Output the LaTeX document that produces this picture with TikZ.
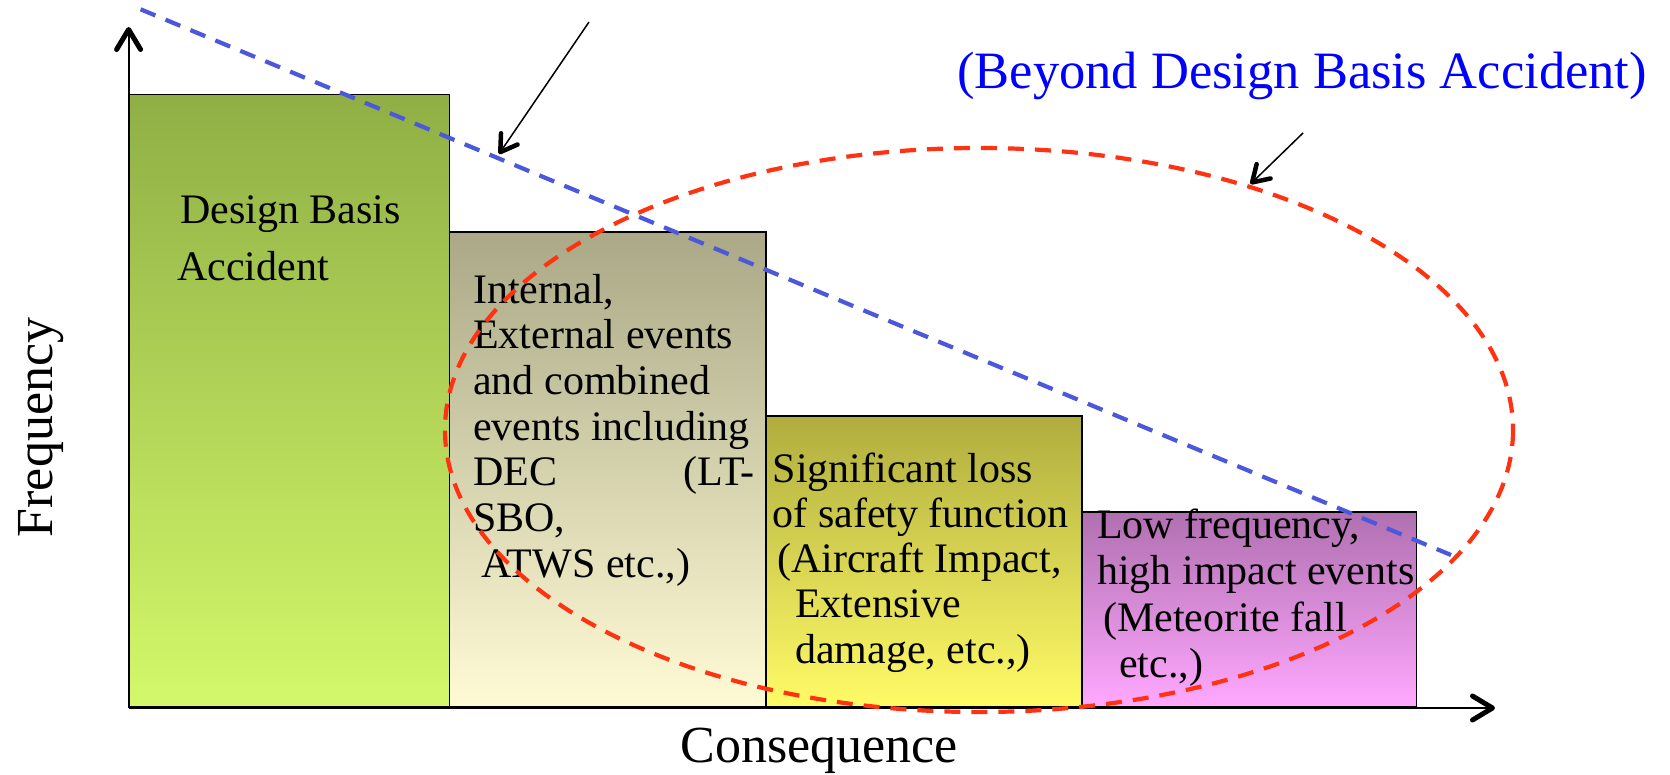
\documentclass[tikz,border=0pt]{standalone}
\usepackage{fontspec}
\setmainfont{Liberation Serif}
\usetikzlibrary{arrows.meta}

\definecolor{dbaTop}{HTML}{8FAF45}
\definecolor{dbaBot}{HTML}{D4F86A}
\definecolor{decTop}{HTML}{AAA886}
\definecolor{decBot}{HTML}{FFFBD5}
\definecolor{sigTop}{HTML}{B0AD3F}
\definecolor{sigBot}{HTML}{FFFB66}
\definecolor{lowTop}{HTML}{B070B0}
\definecolor{lowBot}{HTML}{FFA8FF}
\definecolor{dbaLine}{HTML}{4B58DC}
\definecolor{bdbaLine}{HTML}{FF3311}
\definecolor{bdbaText}{HTML}{0000FF}

\begin{document}
\begin{tikzpicture}[x=1pt,y=-1pt,
  bar/.style={draw=black,line width=1.6pt},
  barlabel/.style={anchor=base west,inner sep=0pt,font=\fontsize{42}{46}\selectfont},
  axislabel/.style={inner sep=0pt,font=\fontsize{52}{56}\selectfont},
  axisline/.style={line width=2pt,-{Straight Barb[length=20pt,width=24pt,line width=5pt,round]}},
  pointer/.style={line width=1.5pt,-{Straight Barb[length=16pt,width=20pt,line width=4.5pt,round]}},
  limitline/.style={dbaLine,line width=4.2pt,dash pattern=on 16pt off 11pt},
  region/.style={bdbaLine,line width=4.2pt,dash pattern=on 16pt off 11pt}]

\useasboundingbox (0,0) rectangle (1670,774);

% frequency bands
\draw[bar,top color=dbaTop,bottom color=dbaBot] (128.6,94.3) rectangle (449.5,707);
\draw[bar,top color=decTop,bottom color=decBot] (449.5,232) rectangle (766,707);
\draw[bar,top color=sigTop,bottom color=sigBot] (766,416) rectangle (1082,707);
\draw[bar,top color=lowTop,bottom color=lowBot] (1082,512) rectangle (1416.5,707);

% axes
\coordinate (origin) at (128.6,708);
\coordinate (ytip) at (128.6,27);
\coordinate (xtip) at (1495,708);
\draw[axisline] (origin) -- (ytip);
\draw[axisline] (origin) -- (xtip);

\node[axislabel,anchor=base,rotate=90] (freq) at (52,427.5) {Frequency};
\node[axislabel,anchor=base] (cons) at (819,762) {Consequence};

% band texts
\node[barlabel] (dba1) at (180,223) {Design Basis};
\node[barlabel] (dba2) at (177,280) {Accident};

\node[barlabel] (dec1) at (473,303) {Internal,};
\node[barlabel] (dec2) at (473,348.7) {External events};
\node[barlabel] (dec3) at (473,394.4) {and combined};
\node[barlabel] (dec4) at (473,440.1) {events including};
\node[barlabel] (dec5) at (473,485.8) {DEC};
\node[barlabel,anchor=base east] (dec5b) at (755,485.8) {(LT-};
\node[barlabel] (dec6) at (473,531.5) {SBO,};
\node[barlabel] (dec7) at (481,577.2) {ATWS etc.,)};

\node[barlabel] (sig1) at (772.5,482) {Significant loss};
\node[barlabel] (sig2) at (772.5,527.2) {of safety function};
\node[barlabel] (sig3) at (777,572.5) {(Aircraft Impact,};
\node[barlabel] (sig4) at (795,617.7) {Extensive};
\node[barlabel] (sig5) at (795,663) {damage, etc.,)};

\node[barlabel] (low1) at (1097,538) {Low frequency,};
\node[barlabel] (low2) at (1097,584) {high impact events};
\node[barlabel] (low3) at (1103,631) {(Meteorite fall};
\node[barlabel] (low4) at (1119,677) {etc.,)};

% design basis limit line
\coordinate (limA) at (140.6,9.3);
\coordinate (limB) at (1451,555);
\draw[limitline] (limA) -- (limB);

% beyond design basis region
\coordinate (regc) at (979,430);
\draw[region] (regc) ellipse [x radius=534,y radius=282];

\node[anchor=base west,inner sep=0pt,text=bdbaText,font=\fontsize{52.5}{56}\selectfont] (bdba) at (957,88) {(Beyond Design Basis Accident)};

% pointers
\coordinate (p1s) at (589,22);
\coordinate (p1e) at (499,154);
\coordinate (p2s) at (1303,133);
\coordinate (p2e) at (1250.5,184);
\draw[pointer] (p1s) -- (p1e);
\draw[pointer] (p2s) -- (p2e);

\end{tikzpicture}
\end{document}
